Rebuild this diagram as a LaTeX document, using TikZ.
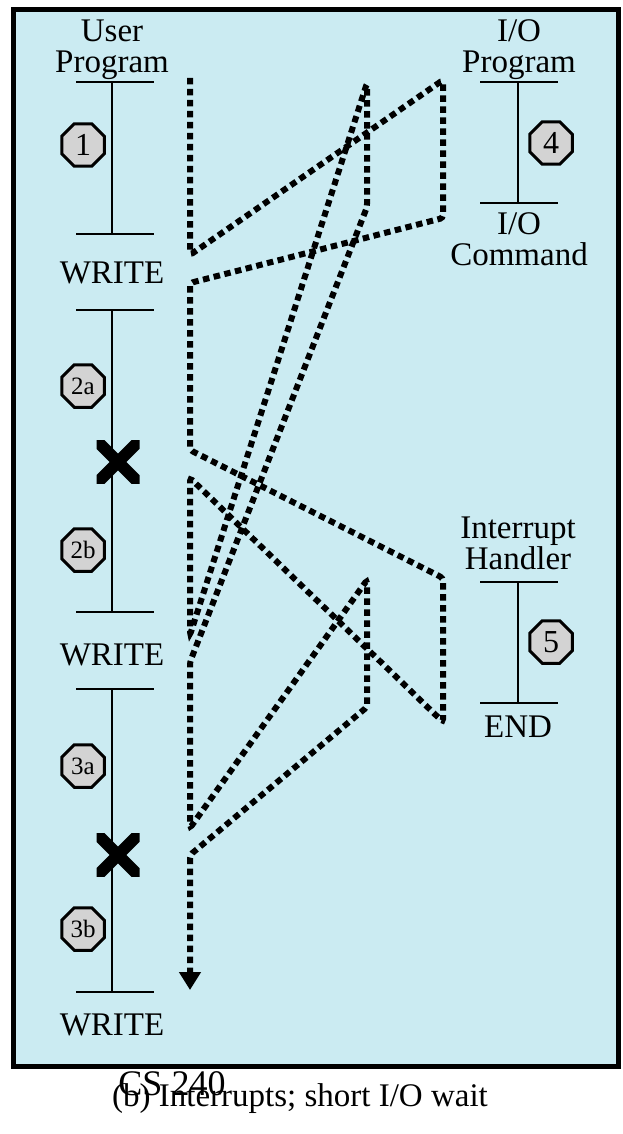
\documentclass[tikz,border=0pt]{standalone}
\usepackage{fontspec}
\setmainfont{Liberation Serif}
\usetikzlibrary{shapes.geometric,arrows.meta}
\definecolor{bgblue}{RGB}{203,235,242}
\definecolor{octgray}{RGB}{211,211,211}
\begin{document}
\begin{tikzpicture}[x=1pt,y=-1pt,
  lbl/.style={font=\fontsize{33}{33}\selectfont, inner sep=0pt, anchor=base},
  tline/.style={line width=2.5pt},
  octo/.style={regular polygon, regular polygon sides=8, draw, line width=3pt, fill=octgray, minimum size=46pt, inner sep=0pt, font=\fontsize{32}{32}\selectfont},
  octs/.style={octo, font=\fontsize{25}{25}\selectfont},
  flow/.style={line width=6pt, dash pattern=on 6.5pt off 4.5pt, rounded corners=3pt},
  ]
\useasboundingbox (0,0) rectangle (622,1134);
\draw[line width=5pt, fill=bgblue] (13,10) rectangle (618,1066);

% labels
\node[lbl] (user1) at (112,42) {User};
\node[lbl] (user2) at (112,73) {Program};
\node[lbl] (w1) at (112,283) {WRITE};
\node[lbl] (w2) at (112,665) {WRITE};
\node[lbl] (w3) at (112,1035) {WRITE};
\node[lbl] (io1) at (519,42) {I/O};
\node[lbl] (io2) at (519,73) {Program};
\node[lbl] (cmd1) at (519,234) {I/O};
\node[lbl] (cmd2) at (519,265) {Command};
\node[lbl] (ih1) at (518,538) {Interrupt};
\node[lbl] (ih2) at (518,569) {Handler};
\node[lbl] (endl) at (518,737) {END};
\node[lbl, font=\fontsize{36}{36}\selectfont] (cs) at (172,1095) {CS 240};
\node[lbl, font=\fontsize{33}{33}\selectfont] (cap) at (300,1106) {(b) Interrupts; short I/O wait};

% timelines
\draw[tline] (76,82) -- (154,82) (112,82) -- (112,234) (76,234) -- (154,234);
\draw[tline] (76,310) -- (154,310) (112,310) -- (112,612) (76,612) -- (154,612);
\draw[tline] (76,689) -- (154,689) (112,689) -- (112,992) (76,992) -- (154,992);
\draw[tline] (480,82) -- (558,82) (518,82) -- (518,203) (480,203) -- (558,203);
\draw[tline] (480,582) -- (558,582) (518,582) -- (518,703) (480,703) -- (558,703);

% interrupt marks
\foreach \cx/\cy in {118/462, 118/855} {
  \begin{scope}[shift={(\cx,\cy)}]
    \clip (-21.5,-21.5) rectangle (21.5,21.5);
    \draw[line width=12pt] (-30,-30) -- (30,30) (30,-30) -- (-30,30);
  \end{scope}
}

% octagons
\node[octo] (c1) at (83,145) {1};
\node[octs] (c2a) at (83,386) {2a};
\node[octs] (c2b) at (83,550) {2b};
\node[octs] (c3a) at (83,766) {3a};
\node[octs] (c3b) at (83,929) {3b};
\node[octo] (c4) at (551,143) {4};
\node[octo] (c5) at (551,642) {5};

% flow path
\coordinate (p0) at (190,78);
\coordinate (p1) at (190,255);
\coordinate (p2) at (443,80);
\coordinate (p3) at (443,218);
\coordinate (p4) at (190,283);
\coordinate (p5) at (190,450);
\coordinate (p6) at (443,578);
\coordinate (p7) at (443,722);
\coordinate (p8) at (190,478);
\coordinate (p9) at (190,635);
\coordinate (p10) at (367,83);
\coordinate (p11) at (367,207);
\coordinate (p12) at (190,662);
\coordinate (p13) at (190,828);
\coordinate (p14) at (367,580);
\coordinate (p15) at (367,707);
\coordinate (p16) at (190,855);
\coordinate (p17) at (190,990);
\draw[flow, -{Triangle[width=21pt,length=18pt]}] (p0) -- (p1) -- (p2) -- (p3) -- (p4) -- (p5) -- (p6) -- (p7) -- (p8) -- (p9) -- (p10) -- (p11) -- (p12) -- (p13) -- (p14) -- (p15) -- (p16) -- (p17);
\end{tikzpicture}
\end{document}
